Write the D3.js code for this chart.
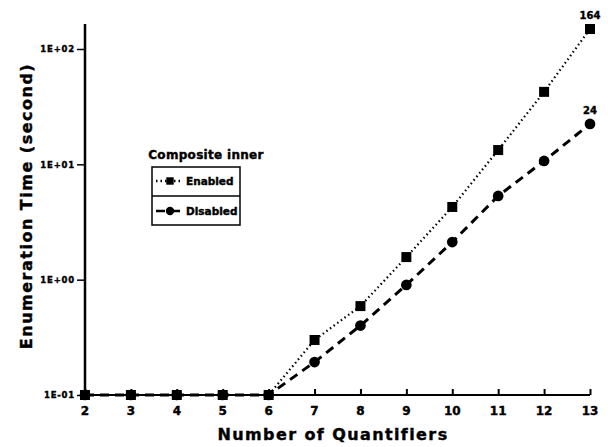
<!DOCTYPE html>
<html>
<head>
<meta charset="utf-8">
<script src="https://cdn.jsdelivr.net/npm/d3@7"></script>
<style>
  body { margin: 0; background: #fff; }
  text { font-family: "DejaVu Sans", sans-serif; font-weight: bold; fill: #000; stroke: #000; stroke-width: 0.4px; }
</style>
</head>
<body>
<div id="chart"></div>
<script>
var quantifiers = [2, 3, 4, 5, 6, 7, 8, 9, 10, 11, 12, 13];
var enabledTimes = [0.1, 0.1, 0.1, 0.1, 0.1, 0.30, 0.59, 1.57, 4.27, 13.3, 42.5, 149];
var disabledTimes = [0.1, 0.1, 0.1, 0.1, 0.1, 0.193, 0.40, 0.90, 2.12, 5.32, 10.7, 22.4];
var yTicks = [0.1, 1, 10, 100];
var yTickLabels = ["1E-01", "1E+00", "1E+01", "1E+02"];
var endLabels = ["164", "24"];

var svgW = 608;
var svgH = 447;

var svg = d3.select("#chart")
    .append("svg")
    .attr("width", svgW)
    .attr("height", svgH);

var xScale = d3.scaleLinear()
    .domain([2, 13])
    .range([85, 590]);
var yScale = d3.scaleLog()
    .domain([0.1, 100])
    .range([395, 49]);

// y axis line runs a bit past the top tick
svg.append("line")
    .attr("x1", 85).attr("x2", 85)
    .attr("y1", 395).attr("y2", 24)
    .attr("stroke", "#000").attr("stroke-width", 2.5);

var yG = svg.append("g")
    .attr("transform", "translate(85,0)");
yG.call(d3.axisLeft(yScale).tickValues(yTicks).tickSize(8).tickPadding(2)
    .tickFormat(function(d, i) { return yTickLabels[i]; }));
yG.select(".domain").remove();
yG.selectAll(".tick line").attr("stroke-width", 1.5);
yG.selectAll(".tick text")
    .style("font-size", "8.5px")
    .style("letter-spacing", "0.8px")
    .attr("dy", "0.35em");

var xG = svg.append("g")
    .attr("transform", "translate(0,395)");
xG.call(d3.axisTop(xScale).tickValues(quantifiers).tickSize(6).tickFormat(""));
xG.select(".domain").attr("d", "M85,0H590").attr("stroke-width", 2);
xG.selectAll(".tick line").attr("stroke-width", 2);
xG.selectAll(".xlabel")
    .data(quantifiers)
    .enter()
    .append("text")
    .attr("class", "xlabel")
    .attr("x", function(d) { return xScale(d); })
    .attr("y", 20)
    .attr("text-anchor", "middle")
    .style("font-size", "12px")
    .text(function(d) { return d; });

svg.append("text")
    .attr("x", 333)
    .attr("y", 440)
    .attr("text-anchor", "middle")
    .style("font-size", "16px")
    .style("letter-spacing", "1.4px")
    .text("Number of Quantifiers");

svg.append("text")
    .attr("transform", "translate(32,206) rotate(-90)")
    .attr("text-anchor", "middle")
    .style("font-size", "16px")
    .style("letter-spacing", "1.5px")
    .text("Enumeration Time (second)");

function drawSeries(values, dash, shape) {
    var line = d3.line()
        .x(function(d, i) { return xScale(quantifiers[i]); })
        .y(function(d) { return yScale(d); });
    svg.append("path")
        .datum(values)
        .attr("d", line)
        .attr("fill", "none")
        .attr("stroke", "#000")
        .attr("stroke-width", dash === "dot" ? 2.2 : 3)
        .attr("stroke-dasharray", dash === "dot" ? "1.5,3" : "9,6");
    svg.append("g")
        .selectAll("path")
        .data(values)
        .enter()
        .append("path")
        .attr("transform", function(d, i) {
            return "translate(" + xScale(quantifiers[i]) + "," + yScale(d) + ")";
        })
        .attr("d", d3.symbol().type(shape).size(shape === d3.symbolSquare ? 100 : 90))
        .attr("fill", "#000");
}

drawSeries(enabledTimes, "dot", d3.symbolSquare);
drawSeries(disabledTimes, "dash", d3.symbolCircle);

var lastI = quantifiers.length - 1;
svg.append("text")
    .attr("x", xScale(quantifiers[lastI]))
    .attr("y", yScale(enabledTimes[lastI]) - 10)
    .attr("text-anchor", "middle")
    .style("font-size", "10px")
    .text(endLabels[0]);
svg.append("text")
    .attr("x", xScale(quantifiers[lastI]))
    .attr("y", yScale(disabledTimes[lastI]) - 10)
    .attr("text-anchor", "middle")
    .style("font-size", "10px")
    .text(endLabels[1]);

// Legend
var legend = svg.append("g");
legend.append("text")
    .attr("x", 206)
    .attr("y", 159)
    .attr("text-anchor", "middle")
    .style("font-size", "12px")
    .style("letter-spacing", "0.3px")
    .text("Composite inner");
legend.append("rect")
    .attr("x", 152).attr("y", 167)
    .attr("width", 88).attr("height", 58)
    .attr("fill", "none").attr("stroke", "#000").attr("stroke-width", 1.5);
legend.append("line")
    .attr("x1", 152).attr("x2", 240)
    .attr("y1", 196).attr("y2", 196)
    .attr("stroke", "#000").attr("stroke-width", 1.5);

var legendItems = [
    { label: "Enabled", dash: "1.5,3", shape: d3.symbolSquare, y: 181 },
    { label: "Disabled", dash: "9,6", shape: d3.symbolCircle, y: 211 }
];
legendItems.forEach(function(it) {
    legend.append("line")
        .attr("x1", 156).attr("x2", 180)
        .attr("y1", it.y).attr("y2", it.y)
        .attr("stroke", "#000").attr("stroke-width", 2.5)
        .attr("stroke-dasharray", it.dash);
    legend.append("path")
        .attr("transform", "translate(170," + it.y + ")")
        .attr("d", d3.symbol().type(it.shape).size(55))
        .attr("fill", "#000");
    legend.append("text")
        .attr("x", 186)
        .attr("y", it.y)
        .attr("dy", "0.35em")
        .style("font-size", "10.5px")
        .text(it.label);
});
</script>
</body>
</html>
